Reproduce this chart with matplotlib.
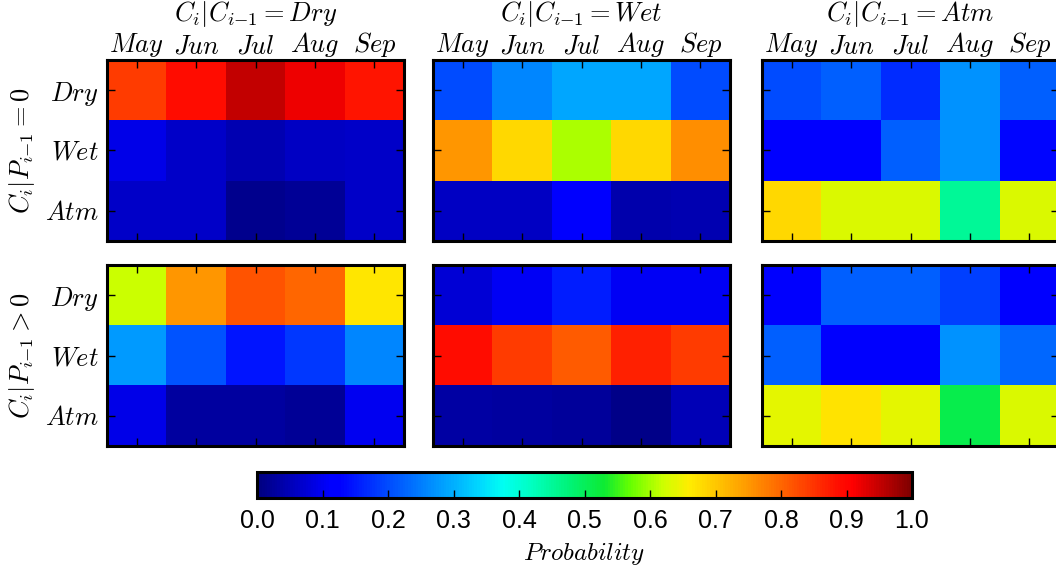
import numpy as np
import matplotlib
matplotlib.use("Agg")
import matplotlib.pyplot as plt
from matplotlib.colors import LinearSegmentedColormap

plt.rcParams['mathtext.fontset'] = 'cm'
plt.rcParams['font.family'] = ['Liberation Sans', 'DejaVu Sans']

months = ['May', 'Jun', 'Jul', 'Aug', 'Sep']
states = ['Dry', 'Wet', 'Atm']

# rows: Dry, Wet, Atm ; cols: May..Sep
# previous day no rain (P_{i-1} = 0)
dry_p0 = [[0.84, 0.89, 0.95, 0.92, 0.88],
          [0.09, 0.065, 0.045, 0.06, 0.065],
          [0.065, 0.065, 0.015, 0.02, 0.065]]
wet_p0 = [[0.20, 0.26, 0.29, 0.29, 0.20],
          [0.75, 0.68, 0.605, 0.68, 0.76],
          [0.06, 0.06, 0.11, 0.04, 0.045]]
atm_p0 = [[0.20, 0.22, 0.17, 0.27, 0.22],
          [0.12, 0.12, 0.22, 0.27, 0.13],
          [0.68, 0.632, 0.63, 0.452, 0.63]]
# previous day rain (P_{i-1} > 0)
dry_pp = [[0.618, 0.75, 0.82, 0.80, 0.665],
          [0.28, 0.21, 0.145, 0.18, 0.26],
          [0.09, 0.03, 0.03, 0.02, 0.10]]
wet_pp = [[0.075, 0.105, 0.155, 0.105, 0.105],
          [0.89, 0.84, 0.81, 0.87, 0.84],
          [0.035, 0.03, 0.025, 0.01, 0.05]]
atm_pp = [[0.11, 0.22, 0.22, 0.19, 0.12],
          [0.22, 0.11, 0.11, 0.27, 0.23],
          [0.64, 0.67, 0.64, 0.508, 0.63]]

panels = [[dry_p0, wet_p0, atm_p0], [dry_pp, wet_pp, atm_pp]]
col_titles = [r'$C_i|C_{i{-}1}=Dry$', r'$C_i|C_{i{-}1}=Wet$', r'$C_i|C_{i{-}1}=Atm$']
row_labels = [r'$C_i|P_{i{-}1}=0$', r'$C_i|P_{i{-}1}>0$']

# jet-like map with the saturated green middle seen in the figure
cm_nodes = [(0.00, (0, 0, 0.5)), (0.11, (0, 0, 1)), (0.125, (0, 0, 1)),
            (0.34, (0, 0.85, 1)), (0.375, (0, 1, 0.95)), (0.42, (0, 1, 0.75)),
            (0.48, (0, 0.95, 0.45)), (0.53, (0.05, 0.92, 0.2)), (0.57, (0.4, 1, 0)),
            (0.62, (0.8, 1, 0)), (0.66, (1, 0.93, 0)), (0.75, (1, 0.6, 0)),
            (0.89, (1, 0.05, 0)), (0.91, (1, 0, 0)), (1.0, (0.5, 0, 0))]
cmap = LinearSegmentedColormap.from_list('jetsat', cm_nodes)

W, H = 1056, 566
fig = plt.figure(figsize=(W / 100, H / 100), dpi=100)

lefts = [107, 433, 762]
tops = [60, 265]
pw, ph = 297, 181

for r in range(2):
    for c in range(3):
        ax = fig.add_axes([lefts[c] / W, 1 - (tops[r] + ph) / H, pw / W, ph / H])
        im = ax.imshow(np.array(panels[r][c]), cmap=cmap, vmin=0, vmax=1,
                       aspect='auto', interpolation='nearest')
        ax.set_xticks(range(len(months)))
        ax.set_yticks(range(len(states)))
        ax.tick_params(direction='in', length=6, width=1, top=True, right=True,
                       bottom=True, left=True, labeltop=(r == 0), labelbottom=False,
                       labelleft=(c == 0), labelsize=19)
        ax.tick_params(axis='x', pad=1)
        ax.tick_params(axis='y', pad=6)
        if r == 0:
            ax.set_xticklabels(['$' + m + '$' for m in months])
        else:
            ax.set_xticklabels([])
        if c == 0:
            ax.set_yticklabels(['$' + s + '$' for s in states])
            ax.set_ylabel(row_labels[r], fontsize=19)
            ax.yaxis.set_label_coords(-0.235, 0.5)
        else:
            ax.set_yticklabels([])
        for sp in ax.spines.values():
            sp.set_linewidth(2.2)
        if r == 0:
            ax.set_title(col_titles[c], fontsize=19, y=1.0, pad=28)

cax = fig.add_axes([257 / W, 1 - 498 / H, 655 / W, 26 / H])
cb = fig.colorbar(im, cax=cax, orientation='horizontal')
cb.set_ticks(np.arange(0, 1.01, 0.1))
cb.ax.tick_params(direction='in', length=6, width=1, labelsize=18, pad=8)
cb.outline.set_linewidth(2.2)
cb.set_label(r'$Probability$', fontsize=18, labelpad=6)

fig.savefig('out.png', dpi=100)
